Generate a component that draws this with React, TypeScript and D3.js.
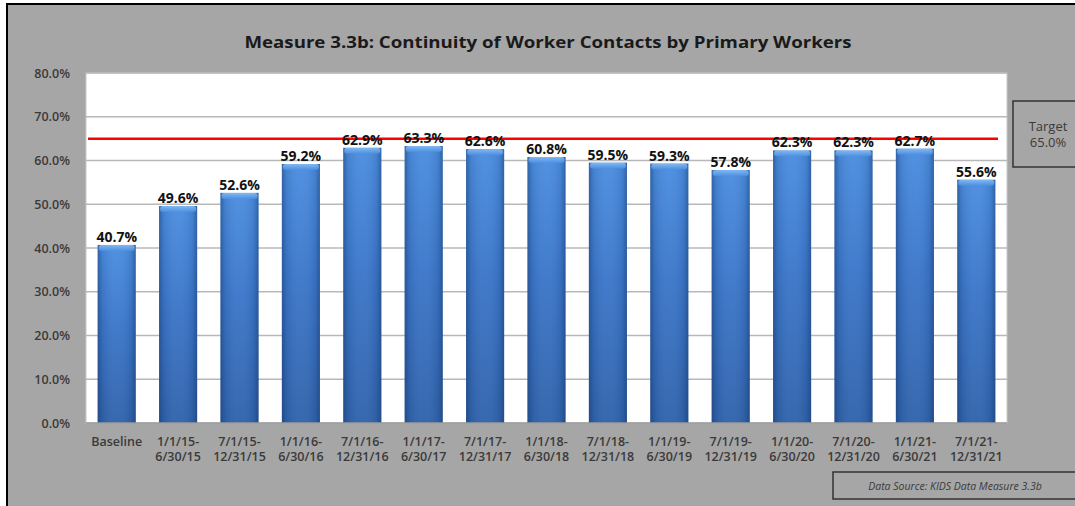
import React from "react";
import * as d3 from "d3";

const categories: string[][] = [
  ["Baseline"],
  ["1/1/15-", "6/30/15"],
  ["7/1/15-", "12/31/15"],
  ["1/1/16-", "6/30/16"],
  ["7/1/16-", "12/31/16"],
  ["1/1/17-", "6/30/17"],
  ["7/1/17-", "12/31/17"],
  ["1/1/18-", "6/30/18"],
  ["7/1/18-", "12/31/18"],
  ["1/1/19-", "6/30/19"],
  ["7/1/19-", "12/31/19"],
  ["1/1/20-", "6/30/20"],
  ["7/1/20-", "12/31/20"],
  ["1/1/21-", "6/30/21"],
  ["7/1/21-", "12/31/21"],
];
const values: number[] = [40.7, 49.6, 52.6, 59.2, 62.9, 63.3, 62.6, 60.8, 59.5, 59.3, 57.8, 62.3, 62.3, 62.7, 55.6];
const yTicks: number[] = [0, 10, 20, 30, 40, 50, 60, 70, 80];
const target = 65.0;
const title = "Measure 3.3b: Continuity of Worker Contacts by Primary Workers";
const sourceText = "Data Source: KIDS Data Measure 3.3b";

const W = 1075;
const H = 506;
const plot = { left: 86, right: 1007, top: 73, bottom: 423 };
const FONT = "'Open Sans', Lato, sans-serif";

export default function App() {
  const keys = categories.map((c) => c.join(" "));
  const x = d3.scaleBand<string>().domain(keys).range([plot.left, plot.right]).paddingInner(0.38).paddingOuter(0.19);
  const y = d3.scaleLinear().domain([0, 80]).range([plot.bottom, plot.top]);
  const bw = x.bandwidth();

  return (
    <svg width={W} height={H} style={{ position: "fixed", left: 0, top: 0, background: "#ffffff" }} fontFamily={FONT}>
      <defs>
        <linearGradient id="barV" x1="0" y1="0" x2="0" y2="1">
          <stop offset="0%" stopColor="#4a8de0" />
          <stop offset="45%" stopColor="#3a76ca" />
          <stop offset="100%" stopColor="#2f62ab" />
        </linearGradient>
        <linearGradient id="barH" x1="0" y1="0" x2="1" y2="0">
          <stop offset="0%" stopColor="#15305c" stopOpacity="0.45" />
          <stop offset="12%" stopColor="#15305c" stopOpacity="0.12" />
          <stop offset="50%" stopColor="#ffffff" stopOpacity="0.04" />
          <stop offset="88%" stopColor="#15305c" stopOpacity="0.12" />
          <stop offset="100%" stopColor="#15305c" stopOpacity="0.45" />
        </linearGradient>
        <linearGradient id="cap" x1="0" y1="0" x2="0" y2="1">
          <stop offset="0%" stopColor="#8cc0f5" />
          <stop offset="100%" stopColor="#4b8fe2" />
        </linearGradient>
      </defs>

      {/* chart area background */}
      <rect x={7} y={4} width={W + 10} height={H + 10} fill="#a6a6a6" stroke="#000000" strokeWidth={2} />

      {/* title */}
      <text x={548} y={48} textAnchor="middle" fontSize={16} fontWeight={700} fill="#1a1a1a" textLength={607} lengthAdjust="spacingAndGlyphs">
        {title}
      </text>

      {/* plot area */}
      <rect x={plot.left} y={plot.top} width={plot.right - plot.left} height={plot.bottom - plot.top} fill="#ffffff" stroke="#c8c8c8" strokeWidth={1} />
      {yTicks.filter((t) => t > 0).map((t) => (
        <line key={t} x1={plot.left} x2={plot.right} y1={y(t)} y2={y(t)} stroke="#b8b8b8" strokeWidth={1.5} />
      ))}

      {/* y tick labels */}
      {yTicks.map((t) => (
        <text key={t} x={70} y={y(t) + 4.5} textAnchor="end" fontSize={12.5} fontWeight={600} fill="#3a3a3a">
          {t.toFixed(1) + "%"}
        </text>
      ))}

      {/* bars */}
      {values.map((v, i) => {
        const bx = x(keys[i]) as number;
        const by = y(v);
        const bh = plot.bottom - by;
        return (
          <g key={i}>
            <rect x={bx} y={by} width={bw} height={bh} fill="url(#barV)" />
            <rect x={bx} y={by} width={bw} height={bh} fill="url(#barH)" />
            <rect x={bx + 1} y={by} width={bw - 2} height={6} rx={3} fill="url(#cap)" opacity={0.85} />
          </g>
        );
      })}

      {/* axis line */}
      <line x1={plot.left} x2={plot.right} y1={plot.bottom} y2={plot.bottom} stroke="#9a9a9a" strokeWidth={1.5} />

      {/* target line */}
      <line x1={plot.left + 2} x2={998} y1={y(target)} y2={y(target)} stroke="#ff0000" strokeWidth={2.5} />

      {/* data labels */}
      {values.map((v, i) => (
        <text key={i} x={(x(keys[i]) as number) + bw / 2} y={y(v) - 3} textAnchor="middle" fontSize={14} fontWeight={700} fill="#111111">
          {v.toFixed(1) + "%"}
        </text>
      ))}

      {/* x labels */}
      {categories.map((lines, i) => (
        <text key={i} textAnchor="middle" fontSize={12.5} fontWeight={600} fill="#3a3a3a">
          {lines.map((ln, j) => (
            <tspan key={j} x={(x(keys[i]) as number) + bw / 2} y={446 + j * 15}>
              {ln}
            </tspan>
          ))}
        </text>
      ))}

      {/* target box */}
      <rect x={1013} y={101} width={70} height={66} fill="#a6a6a6" stroke="#333333" strokeWidth={1.5} />
      <text x={1048} y={131} textAnchor="middle" fontSize={13} fill="#3a3a3a">Target</text>
      <text x={1048} y={147} textAnchor="middle" fontSize={13} fill="#3a3a3a">{target.toFixed(1) + "%"}</text>

      {/* data source box */}
      <rect x={833} y={472} width={260} height={27} fill="#a6a6a6" stroke="#333333" strokeWidth={1.5} />
      <text x={955} y={490} textAnchor="middle" fontSize={10.5} fontStyle="italic" fill="#3a3a3a">{sourceText}</text>
    </svg>
  );
}
